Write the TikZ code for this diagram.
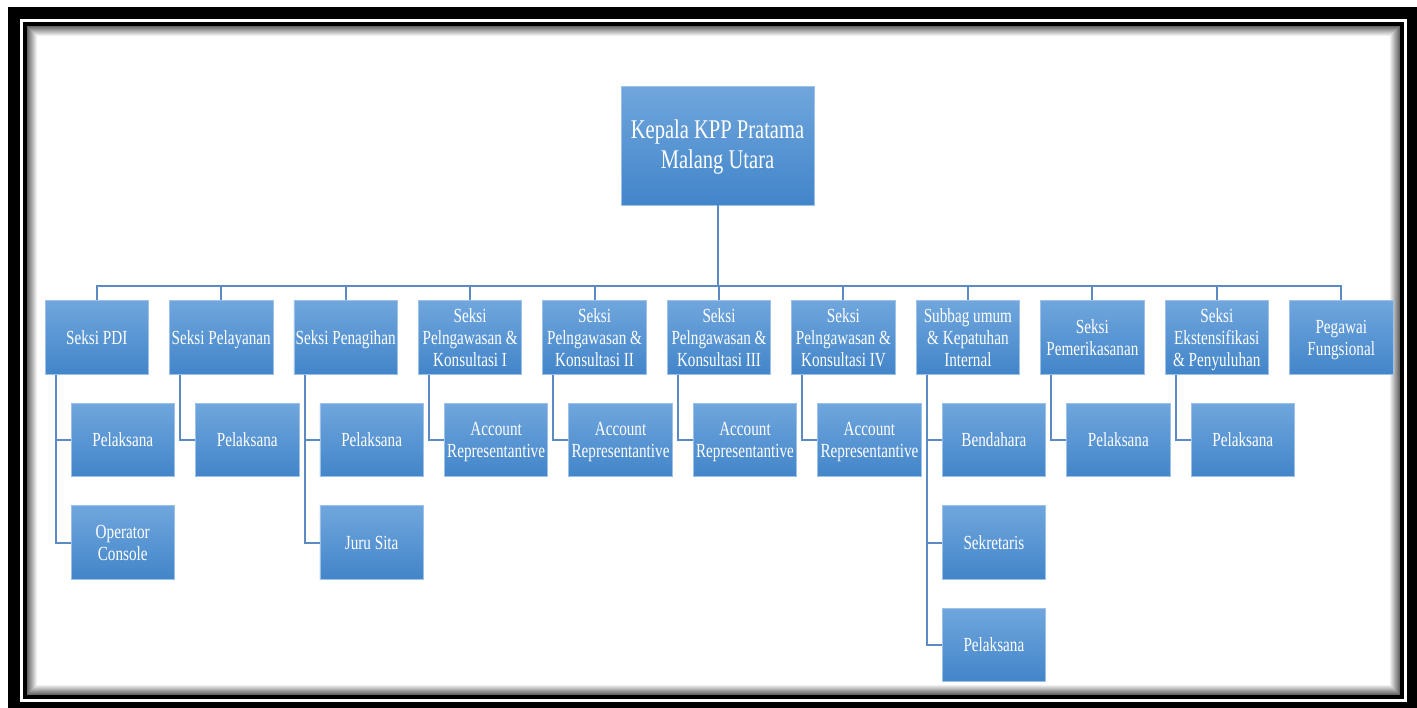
\documentclass[tikz,border=0pt]{standalone}
\usepackage{fontspec}
\setmainfont{Liberation Serif}
\usepackage{graphicx}
\usetikzlibrary{positioning}
\definecolor{BoxTop}{HTML}{70A6DD}
\definecolor{BoxBottom}{HTML}{4285C9}
\definecolor{BoxEdge}{HTML}{9CC2EA}
\definecolor{LineBlue}{HTML}{5B8BC4}
\newcommand{\lbl}[1]{\raisebox{-1.2pt}[\height][\depth]{\scalebox{0.76}[1]{\begin{tabular}{@{}c@{}}#1\end{tabular}}}}

\begin{document}
\begin{tikzpicture}[x=0.5pt, y=-0.5pt,
    unit/.style={draw=BoxEdge, line width=0.4pt, top color=BoxTop, bottom color=BoxBottom,
        text=white, minimum width=51.75pt, minimum height=36.75pt, inner sep=0pt,
        font=\fontsize{10}{11}\selectfont},
    head/.style={unit, minimum width=96.5pt, minimum height=59.5pt,
        font=\fontsize{13.5}{15}\selectfont},
    link/.style={draw=LineBlue, line width=1pt}]
        \useasboundingbox (0,0) rectangle (1417,707);
        \clip (0,0) rectangle (1417,707);

        % Frame
        \draw [line width=6pt] (14,12.5) rectangle (1413,708);
        \draw [line width=2pt] (25,24) rectangle (1402,697);
        \foreach \k [evaluate=\k as \s using 60-6*\k] in {0,...,9}
            \draw [black!\s, line width=0.5pt] (27.5+\k,26.5+\k) rectangle (1399.5-\k,694.5-\k);

        % Head
        \node [head] (kepala) at (717.5,145.5) {\lbl{Kepala KPP Pratama\\Malang Utara}};
        \coordinate (bus) at (717.5,286);

        % Sections
        \node [unit] (pdi) at (96.75,337.5) {\lbl{Seksi PDI}};
        \node [unit] (pelayanan) at (221.2,337.5) {\lbl{Seksi Pelayanan}};
        \node [unit] (penagihan) at (345.65,337.5) {\lbl{Seksi Penagihan}};
        \node [unit] (pk1) at (470.1,337.5) {\lbl{Seksi\\Pelngawasan \&\\Konsultasi I}};
        \node [unit] (pk2) at (594.55,337.5) {\lbl{Seksi\\Pelngawasan \&\\Konsultasi II}};
        \node [unit] (pk3) at (719,337.5) {\lbl{Seksi\\Pelngawasan \&\\Konsultasi III}};
        \node [unit] (pk4) at (843.45,337.5) {\lbl{Seksi\\Pelngawasan \&\\Konsultasi IV}};
        \node [unit] (subbag) at (967.9,337.5) {\lbl{Subbag umum\\\& Kepatuhan\\Internal}};
        \node [unit] (periksa) at (1092.35,337.5) {\lbl{Seksi\\Pemerikasanan}};
        \node [unit] (ekstensi) at (1216.8,337.5) {\lbl{Seksi\\Ekstensifikasi\\\& Penyuluhan}};
        \node [unit] (fungsional) at (1341.25,337.5) {\lbl{Pegawai\\Fungsional}};

        % Staff
        \node [unit] (pdi1) at (122.75,440) {\lbl{Pelaksana}};
        \node [unit] (pdi2) at (122.75,542.5) {\lbl{Operator\\Console}};
        \node [unit] (pelayanan1) at (247.2,440) {\lbl{Pelaksana}};
        \node [unit] (penagihan1) at (371.65,440) {\lbl{Pelaksana}};
        \node [unit] (penagihan2) at (371.65,542.5) {\lbl{Juru Sita}};
        \node [unit] (pk1a) at (496.1,440) {\lbl{Account\\Representantive}};
        \node [unit] (pk2a) at (620.55,440) {\lbl{Account\\Representantive}};
        \node [unit] (pk3a) at (745,440) {\lbl{Account\\Representantive}};
        \node [unit] (pk4a) at (869.45,440) {\lbl{Account\\Representantive}};
        \node [unit] (subbag1) at (993.9,440) {\lbl{Bendahara}};
        \node [unit] (subbag2) at (993.9,542.5) {\lbl{Sekretaris}};
        \node [unit] (subbag3) at (993.9,645) {\lbl{Pelaksana}};
        \node [unit] (periksa1) at (1118.35,440) {\lbl{Pelaksana}};
        \node [unit] (ekstensi1) at (1242.8,440) {\lbl{Pelaksana}};

        % Lines
        \draw [link] (kepala.south) -- (kepala.south |- bus);
        \draw [link] (pdi.north) |- (fungsional.north |- bus) -- (fungsional.north);
        \foreach \n in {pelayanan,penagihan,pk1,pk2,pk3,pk4,subbag,periksa,ekstensi}
            \draw [link] (\n.north) -- (\n.north |- bus);
        \foreach \p/\c in {pdi/pdi1,pdi/pdi2,pelayanan/pelayanan1,penagihan/penagihan1,
            penagihan/penagihan2,pk1/pk1a,pk2/pk2a,pk3/pk3a,pk4/pk4a,subbag/subbag1,
            subbag/subbag2,subbag/subbag3,periksa/periksa1,ekstensi/ekstensi1}
            \draw [link] ([xshift=5.5pt]\p.south west) |- (\c.west);
    \end{tikzpicture}
\end{document}
